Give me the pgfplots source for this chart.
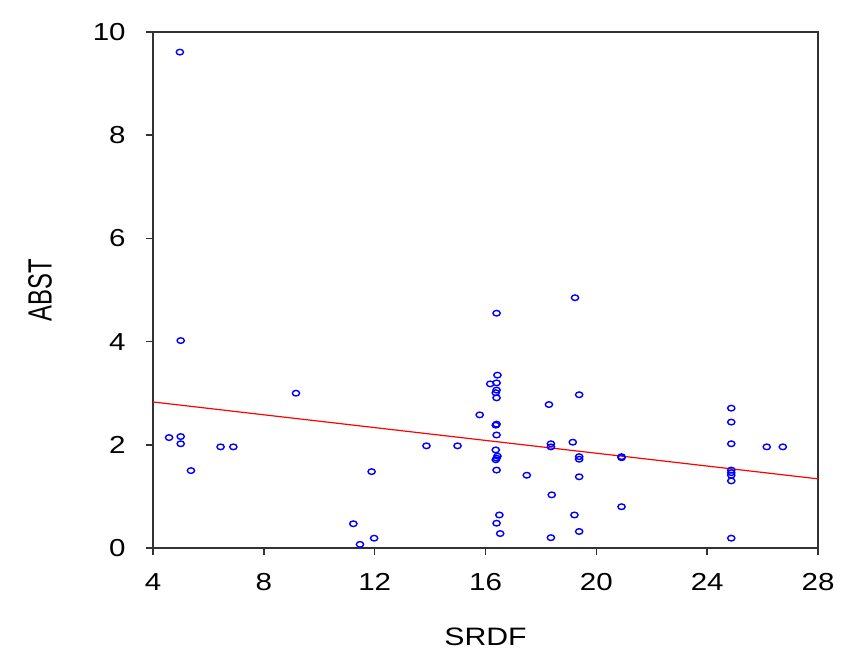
\documentclass[border=0pt]{standalone}
\usepackage{fontspec}
\setmainfont[FakeStretch=1.2]{Liberation Sans}
\newfontfamily\ylabfont[FakeStretch=0.71]{Liberation Sans}
\usepackage{pgfplots}
\pgfplotsset{compat=1.18}

\definecolor{framegray}{RGB}{50,50,50}

\begin{document}
\begin{tikzpicture}
\useasboundingbox (-76.5pt,-54pt) rectangle (348pt,274pt);
\begin{axis}[
  scale only axis,
  width=332.5pt, height=258pt,
  xmin=4, xmax=28, ymin=0, ymax=10,
  xtick={4,8,...,28}, ytick={0,2,...,10},
  xtick pos=bottom, ytick pos=left,
  tick align=outside,
  major tick length=3.5pt,
  axis line style={framegray, line width=0.9pt},
  tick style={framegray, line width=0.8pt},
  /pgf/number format/assume math mode=true,
  ticklabel style={font=\fontsize{12.3}{14}\selectfont, inner sep=0pt},
  xticklabel style={anchor=center, yshift=-13.5pt},
  yticklabel style={anchor=east, xshift=-10pt},
  xlabel={SRDF},
  ylabel={ABST},
  xlabel style={at={(axis description cs:0.5,-0.1725)}, anchor=center,
    font=\fontsize{12.6}{15}\selectfont},
  ylabel style={at={(axis description cs:-0.1699,0.5)}, anchor=center,
    font=\ylabfont\fontsize{16.8}{18}\selectfont},
]
\addplot[only marks, blue, mark=o, mark size=1.4pt,
  mark options={xscale=1.3, line width=0.7pt}] coordinates {
(4.97,9.61) (5.00,4.02) (4.58,2.14) (5.00,2.16) (5.00,2.02) (5.37,1.50)
(6.44,1.96) (6.90,1.96) (9.16,3.00)
(11.23,0.47) (11.47,0.07) (11.89,1.48) (11.98,0.19)
(13.87,1.98) (14.99,1.98) (15.79,2.58)
(16.17,3.18) (16.40,4.55) (16.43,3.35) (16.40,3.20) (16.40,3.06)
(16.37,3.01) (16.40,2.91) (16.37,2.38) (16.40,2.40) (16.40,2.19)
(16.37,1.90) (16.40,1.74) (16.37,1.71) (16.43,1.78) (16.40,1.51)
(16.50,0.64) (16.40,0.48) (16.53,0.28)
(17.49,1.41) (18.29,2.78) (18.36,2.02) (18.36,1.96) (18.39,1.03) (18.36,0.20)
(19.15,2.05) (19.23,4.85) (19.38,2.97) (19.38,1.77) (19.38,1.72)
(19.38,1.38) (19.21,0.64) (19.38,0.32)
(20.91,1.77) (20.91,1.75) (20.91,0.80)
(24.87,2.71) (24.87,2.44) (24.87,2.02) (24.87,1.51) (24.87,1.46)
(24.87,1.41) (24.87,1.30) (24.87,0.19)
(26.15,1.96) (26.73,1.96)
};
\addplot[red, line width=0.6pt] coordinates {(4,2.83) (28,1.34)};
\end{axis}
\end{tikzpicture}
\end{document}
